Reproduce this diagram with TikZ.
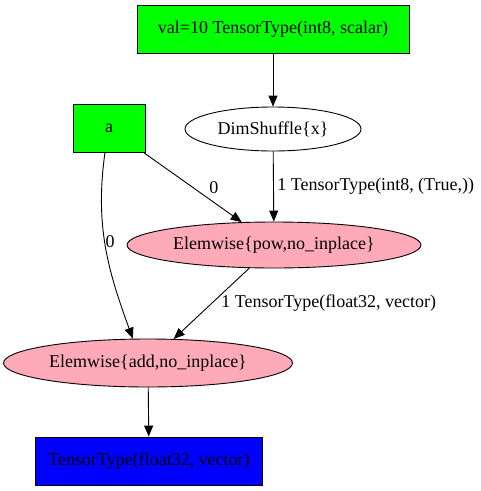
\documentclass[tikz,border=0pt]{standalone}
\usepackage{fontspec}
\setmainfont{Liberation Serif}
\usetikzlibrary{shapes.geometric,arrows.meta}
\definecolor{applypink}{RGB}{255,170,185}
\begin{document}
\begin{tikzpicture}[x=1pt, y=-1pt, line width=0.9pt,
  font=\fontsize{18}{20}\selectfont,
  >={Triangle[length=11pt,width=9pt]},
  varbox/.style={draw, rectangle, fill=green, inner sep=0pt, minimum height=48pt},
  applynode/.style={draw, ellipse, inner sep=0pt},
  resbox/.style={draw, rectangle, fill=blue, inner sep=0pt, minimum height=48pt}]
\useasboundingbox (0,0) rectangle (481,491);

\node (val) [varbox, minimum width=272pt] at (273,29) {val=10 TensorType(int8, scalar)};
\node (a) [varbox, minimum width=72pt] at (109,128) {a};
\node (dim) [applynode, minimum width=176pt, minimum height=44pt] at (273,129) {DimShuffle\{x\}};
\node (pow) [applynode, fill=applypink, minimum width=294pt, minimum height=46pt] at (274,245) {Elemwise\{pow,no\_inplace\}};
\node (add) [applynode, fill=applypink, minimum width=289pt, minimum height=48pt] at (148,363) {Elemwise\{add,no\_inplace\}};
\node (res) [resbox, minimum width=227pt] at (149,461) {TensorType(float32, vector)};

\draw[->] (val) -- (dim);
\draw[->] (dim) -- (pow) node[midway, right=0pt] {1 TensorType(int8, (True,))};
\draw[->] (a) -- (pow) node[midway, right=13pt] {0};
\draw[->] ([xshift=-4pt]a.south) to[out=-98, in=110] node[pos=0.47, right=-3pt] {0} (add.122);
\draw[->] (pow) -- (add) node[midway, right=6pt] {1 TensorType(float32, vector)};
\draw[->] (add) -- (res);
\end{tikzpicture}
\end{document}
